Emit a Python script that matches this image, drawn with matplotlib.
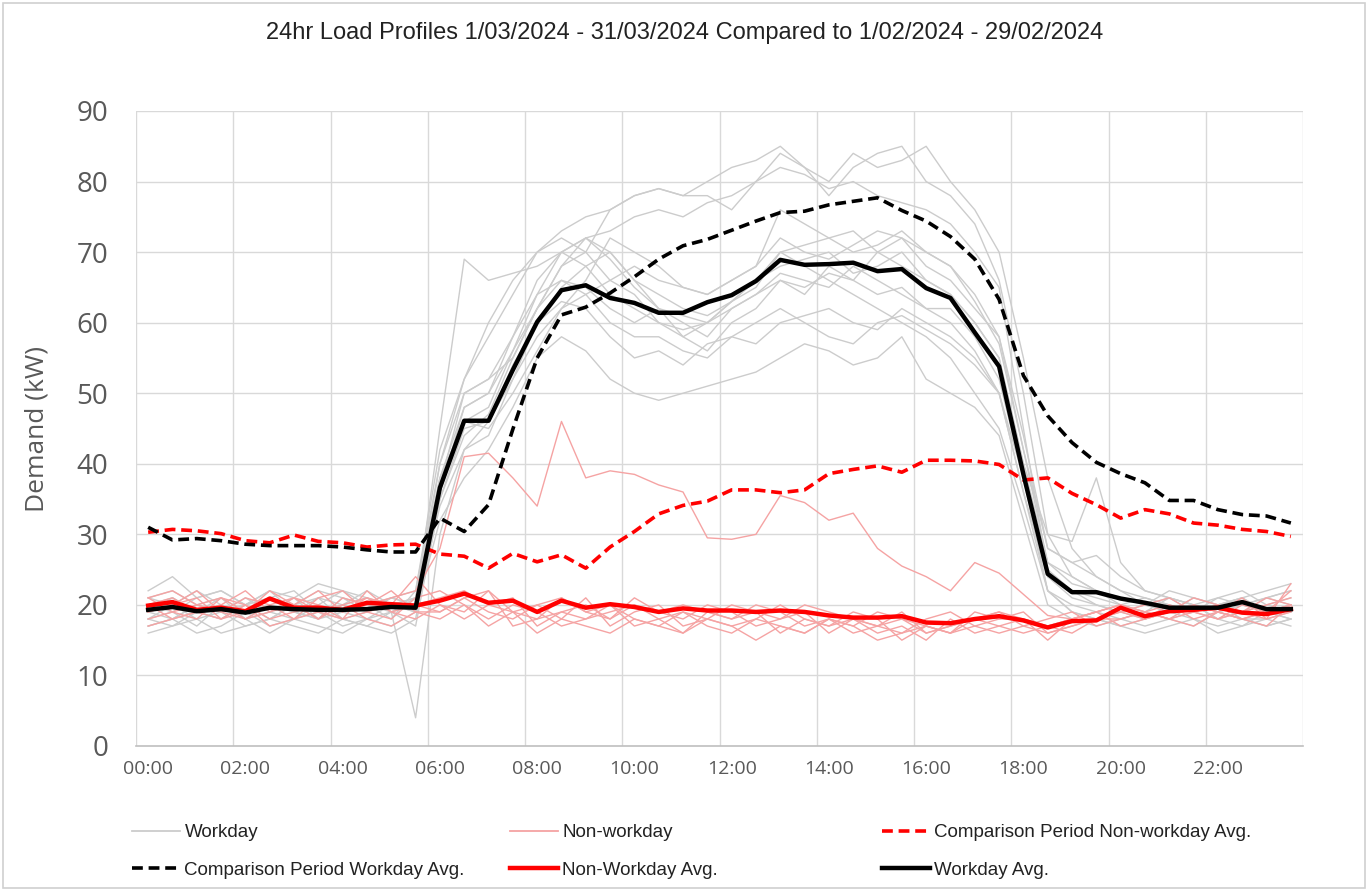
import matplotlib
matplotlib.use("Agg")
import matplotlib.pyplot as plt
from matplotlib.lines import Line2D
from matplotlib.patches import Rectangle

times = [f"{h:02d}:{m:02d}" for h in range(24) for m in (0, 30)]
tick_labels = ["00:00", "02:00", "04:00", "06:00", "08:00", "10:00",
               "12:00", "14:00", "16:00", "18:00", "20:00", "22:00"]
y_ticks = [0, 10, 20, 30, 40, 50, 60, 70, 80, 90]

workday_avg = [19.3, 19.7, 19.1, 19.4, 18.9, 19.6, 19.4, 19.3, 19.3, 19.4, 19.7, 19.6,
               36.6, 46.1, 46.1, 53.3, 60.1, 64.6, 65.3, 63.5, 62.8, 61.4, 61.4, 62.9,
               63.9, 65.9, 68.9, 68.2, 68.3, 68.5, 67.3, 67.6, 64.9, 63.5, 58.6, 53.8,
               38.5, 24.4, 21.8, 21.8, 20.9, 20.3, 19.6, 19.6, 19.6, 20.4, 19.4, 19.4]
comp_workday_avg = [31.0, 29.2, 29.4, 29.1, 28.6, 28.4, 28.4, 28.4, 28.2, 27.8, 27.5, 27.5,
                    32.3, 30.4, 34.2, 44.9, 55.0, 61.1, 62.2, 64.2, 66.5, 69.0, 70.9, 71.8,
                    73.1, 74.4, 75.6, 75.8, 76.7, 77.2, 77.7, 75.9, 74.4, 72.2, 69.0, 63.3,
                    52.5, 46.8, 43.0, 40.2, 38.6, 37.3, 34.8, 34.8, 33.5, 32.8, 32.6, 31.6]
comp_nonwork_avg = [30.3, 30.7, 30.5, 30.1, 29.1, 28.8, 29.9, 29.0, 28.8, 28.2, 28.5, 28.6,
                    27.2, 26.9, 25.2, 27.3, 26.1, 27.1, 25.2, 28.2, 30.4, 32.9, 34.1, 34.7,
                    36.3, 36.3, 35.9, 36.3, 38.6, 39.2, 39.7, 38.8, 40.5, 40.5, 40.4, 39.9,
                    37.7, 38.0, 35.8, 34.2, 32.3, 33.5, 32.9, 31.6, 31.3, 30.7, 30.4, 29.7]
nonwork_avg = [19.9, 20.4, 19.3, 19.6, 19.1, 20.9, 19.6, 19.6, 19.3, 20.3, 20.1, 19.9,
               20.6, 21.6, 20.3, 20.6, 19.0, 20.6, 19.6, 20.1, 19.7, 19.0, 19.5, 19.2,
               19.2, 19.0, 19.2, 19.0, 18.5, 18.2, 18.2, 18.4, 17.5, 17.4, 18.0, 18.4,
               17.8, 16.8, 17.7, 17.8, 19.6, 18.4, 19.1, 19.3, 19.6, 18.9, 18.7, 19.4]

workdays = [
    [18, 19, 17, 20, 18, 19, 21, 18, 19, 20, 18, 22, 40, 52, 60, 66, 70, 73, 75, 76, 78, 79, 78, 80,
     82, 83, 85, 82, 80, 84, 82, 83, 85, 80, 76, 70, 55, 38, 28, 24, 22, 21, 20, 19, 20, 21, 19, 20],
    [20, 21, 19, 18, 20, 22, 19, 21, 18, 19, 21, 20, 45, 69, 66, 67, 68, 70, 72, 73, 75, 76, 75, 77,
     78, 80, 82, 81, 79, 80, 78, 77, 76, 74, 70, 65, 45, 25, 22, 21, 20, 19, 21, 20, 18, 19, 20, 21],
    [17, 18, 20, 19, 17, 18, 20, 19, 18, 17, 19, 4, 30, 42, 44, 52, 60, 65, 68, 70, 66, 62, 58, 60,
     63, 65, 70, 68, 66, 64, 62, 60, 58, 55, 50, 45, 34, 22, 19, 18, 17, 18, 19, 20, 18, 17, 19, 18],
    [19, 20, 18, 19, 21, 19, 18, 20, 19, 18, 20, 19, 32, 38, 42, 48, 55, 58, 56, 52, 50, 49, 50, 51,
     52, 53, 55, 57, 56, 54, 55, 58, 52, 50, 48, 44, 32, 20, 18, 17, 18, 19, 18, 17, 19, 18, 18, 19],
    [21, 22, 20, 19, 20, 21, 22, 19, 20, 21, 19, 20, 35, 44, 47, 55, 62, 68, 72, 70, 66, 64, 62, 61,
     63, 66, 70, 71, 72, 73, 70, 68, 66, 64, 60, 55, 40, 30, 29, 38, 26, 22, 21, 20, 19, 20, 21, 22],
    [16, 17, 18, 16, 17, 18, 17, 16, 18, 17, 16, 18, 36, 46, 48, 56, 64, 70, 72, 69, 65, 62, 60, 58,
     62, 64, 66, 65, 67, 66, 64, 65, 62, 60, 56, 50, 36, 24, 22, 20, 19, 18, 19, 18, 17, 18, 17, 18],
    [22, 24, 21, 22, 20, 22, 21, 23, 22, 20, 21, 22, 42, 52, 58, 64, 70, 72, 70, 76, 78, 79, 78, 78,
     76, 80, 84, 82, 78, 82, 84, 85, 80, 78, 74, 66, 50, 30, 24, 22, 21, 20, 22, 21, 20, 21, 22, 23],
    [18, 17, 19, 20, 18, 16, 18, 19, 17, 18, 17, 19, 34, 42, 46, 54, 60, 63, 62, 58, 55, 56, 54, 57,
     58, 57, 60, 61, 62, 60, 59, 62, 60, 58, 55, 50, 38, 22, 20, 19, 18, 17, 18, 19, 20, 18, 17, 18],
    [19, 18, 20, 21, 19, 20, 19, 18, 21, 20, 19, 21, 38, 48, 50, 58, 66, 70, 68, 64, 62, 60, 58, 56,
     60, 62, 66, 64, 68, 66, 70, 72, 68, 66, 62, 58, 44, 28, 26, 24, 22, 20, 19, 21, 20, 19, 21, 20],
    [20, 19, 21, 22, 20, 18, 20, 21, 20, 22, 20, 21, 37, 50, 52, 55, 62, 66, 64, 66, 68, 66, 65, 64,
     66, 68, 76, 74, 72, 70, 71, 73, 70, 68, 64, 58, 42, 26, 24, 22, 20, 21, 20, 19, 21, 22, 20, 19],
    [17, 18, 16, 17, 19, 17, 18, 17, 16, 18, 19, 17, 35, 45, 46, 52, 58, 62, 64, 60, 58, 58, 56, 55,
     58, 60, 62, 60, 58, 57, 60, 61, 59, 57, 54, 50, 36, 22, 19, 18, 17, 16, 17, 18, 16, 17, 18, 17],
    [21, 20, 22, 20, 19, 21, 20, 22, 21, 19, 20, 21, 38, 46, 45, 50, 56, 62, 66, 72, 70, 68, 65, 64,
     66, 68, 72, 70, 69, 71, 73, 72, 70, 68, 63, 57, 42, 28, 26, 27, 24, 22, 21, 20, 19, 20, 21, 22],
    [19, 21, 19, 18, 20, 21, 19, 20, 22, 21, 20, 19, 36, 48, 50, 56, 62, 68, 70, 66, 64, 60, 59, 60,
     62, 64, 67, 66, 65, 68, 66, 64, 62, 62, 58, 52, 38, 24, 21, 20, 19, 20, 21, 19, 20, 21, 19, 20],
    [18, 20, 19, 21, 18, 20, 19, 18, 20, 19, 21, 20, 40, 50, 52, 58, 64, 66, 65, 62, 60, 62, 61, 60,
     63, 66, 68, 69, 70, 67, 68, 70, 66, 64, 60, 55, 40, 26, 23, 22, 21, 20, 19, 20, 21, 20, 19, 18],
]

nonworkdays = [
    [20, 21, 19, 20, 18, 19, 21, 20, 19, 20, 21, 22, 28, 41, 41.5, 38, 34, 46, 38, 39, 38.5, 37, 36, 29.5,
     29.3, 30, 35.5, 34.5, 32, 33, 28, 25.5, 24, 22, 26, 24.5, 21.5, 18.5, 18, 19, 20, 19, 18, 20, 19, 18, 19, 20],
    [19, 20, 21, 18, 19, 22, 20, 18, 20, 21, 19, 20, 21, 22, 20, 19, 18, 21, 19, 20, 18, 17, 19, 18,
     17, 18, 17, 16, 18, 17, 19, 18, 17, 16, 18, 17, 16, 17, 18, 19, 20, 18, 19, 20, 19, 18, 19, 20],
    [21, 22, 20, 19, 21, 20, 18, 21, 22, 19, 20, 24, 20, 19, 22, 17, 18, 19, 20, 18, 21, 19, 18, 20,
     19, 17, 18, 19, 16, 18, 17, 16, 18, 19, 17, 18, 19, 16, 17, 18, 19, 20, 21, 19, 18, 20, 19, 22],
    [18, 19, 18, 21, 20, 18, 19, 20, 18, 19, 18, 21, 22, 20, 18, 20, 19, 17, 18, 20, 17, 18, 16, 19,
     18, 20, 19, 17, 18, 16, 17, 19, 16, 17, 18, 19, 17, 18, 19, 17, 18, 19, 20, 18, 19, 21, 18, 19],
    [20, 18, 19, 20, 22, 19, 20, 18, 21, 20, 22, 19, 19, 21, 19, 18, 20, 18, 21, 17, 19, 20, 17, 18,
     20, 19, 16, 18, 17, 19, 18, 15, 17, 16, 19, 18, 18, 15, 18, 19, 17, 18, 19, 21, 20, 19, 20, 21],
    [19, 20, 22, 19, 18, 20, 21, 19, 18, 22, 19, 18, 20, 18, 20, 21, 17, 19, 18, 19, 20, 18, 19, 17,
     16, 18, 20, 18, 17, 18, 16, 17, 15, 18, 16, 17, 18, 17, 16, 18, 19, 18, 20, 19, 18, 19, 18, 23],
    [17, 18, 19, 18, 20, 17, 18, 19, 20, 18, 17, 19, 18, 20, 17, 19, 16, 18, 17, 16, 18, 17, 16, 18,
     17, 15, 17, 16, 18, 17, 15, 16, 17, 16, 17, 16, 17, 16, 17, 18, 18, 19, 18, 17, 19, 18, 17, 20],
    [21, 19, 20, 21, 19, 21, 20, 22, 19, 21, 20, 20, 19, 21, 22, 19, 20, 21, 19, 18, 20, 19, 20, 19,
     18, 19, 18, 20, 19, 18, 17, 18, 16, 17, 18, 19, 18, 17, 18, 19, 20, 19, 18, 19, 20, 19, 21, 20],
]

GRAY = "#cccccc"
PINK = "#f5a3a3"
TXT = "#595959"
FONT = ["Open Sans", "DejaVu Sans"]

fig = plt.figure(figsize=(13.69, 8.90), dpi=100)
fig.patches.append(Rectangle((0.002, 0.002), 0.995, 0.995, transform=fig.transFigure,
                             fill=False, edgecolor="#d0d0d0", linewidth=1.2))
ax = fig.add_axes([136 / 1369, 1 - 746 / 890, (1303 - 136) / 1369, (746 - 111) / 890])

x = list(range(len(times)))
for s in workdays:
    ax.plot(x, s, color=GRAY, lw=1.0, zorder=2)
for s in nonworkdays:
    ax.plot(x, s, color=PINK, lw=1.0, zorder=3)
ax.plot(x, comp_nonwork_avg, color="#ff0000", lw=2.6, ls=(0, (3, 1.6)), zorder=4)
ax.plot(x, comp_workday_avg, color="#000000", lw=2.6, ls=(0, (3, 1.6)), zorder=4)
ax.plot(x, nonwork_avg, color="#ff0000", lw=3.2, zorder=5)
ax.plot(x, workday_avg, color="#000000", lw=3.2, zorder=6)

ax.set_xlim(-0.5, len(times) - 0.5)
ax.set_ylim(0, 90)
ax.set_yticks(y_ticks)
ax.set_yticklabels([str(v) for v in y_ticks], fontsize=20, color=TXT, family=FONT)
ax.set_xticks([times.index(t) for t in tick_labels])
ax.set_xticklabels(tick_labels, fontsize=14, color=TXT, family=FONT)
ax.tick_params(axis="y", length=0, pad=20)
ax.tick_params(axis="x", length=0, pad=10)
for v in y_ticks[1:]:
    ax.axhline(v, color="#d9d9d9", lw=1.0, zorder=1)
for k in range(0, len(times) + 1, 4):
    ax.axvline(k - 0.5, color="#d9d9d9", lw=1.0, zorder=1)
for sp in ["top", "right", "left"]:
    ax.spines[sp].set_visible(False)
ax.spines["bottom"].set_color("#bfbfbf")
ax.spines["bottom"].set_linewidth(1.2)
ax.set_ylabel("Demand (kW)", fontsize=19, color=TXT, family=FONT)
ax.yaxis.set_label_coords((50 - 136) / 1167, 0.5)

fig.text(0.5, 1 - 33 / 890, "24hr Load Profiles 1/03/2024 - 31/03/2024 Compared to 1/02/2024 - 29/02/2024",
         ha="center", va="center", fontsize=17, color="#222222", family=["Liberation Sans", "DejaVu Sans"])

legend_font = {"family": ["Liberation Sans", "DejaVu Sans"], "size": 13.5}
cols = [
    (132, [("Workday", GRAY, 1.3, "-"), ("Comparison Period Workday Avg.", "#000000", 2.6, (0, (3, 1.6)))]),
    (510, [("Non-workday", PINK, 1.3, "-"), ("Non-Workday Avg.", "#ff0000", 3.2, "-")]),
    (882, [("Comparison Period Non-workday Avg.", "#ff0000", 2.6, (0, (3, 1.6))), ("Workday Avg.", "#000000", 3.2, "-")]),
]
for xpx, entries in cols:
    handles = [Line2D([], [], color=c, lw=w, ls=ls) for _, c, w, ls in entries]
    labels = [e[0] for e in entries]
    leg = fig.legend(handles, labels, loc="upper left", bbox_to_anchor=(xpx / 1369, 1 - 824 / 890),
                     frameon=False, prop=legend_font, handlelength=2.55, handletextpad=0.25,
                     labelspacing=1.1, borderaxespad=0, borderpad=0)
    for t in leg.get_texts():
        t.set_color("#222222")

fig.savefig("out.png", dpi=100)
